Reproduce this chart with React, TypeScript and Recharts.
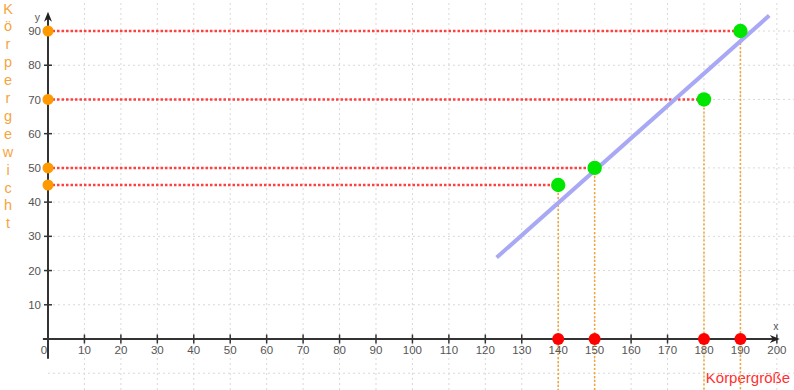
import React from 'react';
import { ComposedChart, XAxis, YAxis, Scatter, ReferenceLine, ReferenceDot } from 'recharts';

// ---- data ----
const xTicks = [10, 20, 30, 40, 50, 60, 70, 80, 90, 100, 110, 120, 130, 140, 150, 160, 170, 180, 190, 200];
const yTicks = [10, 20, 30, 40, 50, 60, 70, 80, 90];
const gridX = [10, 20, 30, 40, 50, 60, 70, 80, 90, 100, 110, 120, 130, 140, 150, 160, 170, 180, 190, 200];
const gridY = [-10, 10, 20, 30, 40, 50, 60, 70, 80, 90];
const heights = [140, 150, 180, 190];
const weights = [45, 50, 70, 90];
const regression = [
  { x: 123.1, y: 23.8 },
  { x: 197.9, y: 94.5 },
];
const xLabel = 'Körpergröße';
const yLabel = 'Körpergewicht';

const X_MIN = -13.17;
const X_MAX = 204.7;
const Y_MIN = -14.9;
const Y_MAX = 99.06;
const X_AXIS_START = -1.4;
const X_AXIS_END = 200.8;
const Y_AXIS_START = -5.8;
const Y_AXIS_END = 95.6;

const points = heights.map((h, i) => ({ x: h, y: weights[i] }));
const xDots = heights.map((h) => ({ x: h, y: 0 }));
const yDots = weights.map((w) => ({ x: 0, y: w }));

const tickFont = { fontFamily: 'Liberation Sans, Arial, sans-serif', fontSize: 11.5, fill: '#555' };
const GRID = '#d8d8d8';

const dot = (r: number, fill: string) => (p: any) => <circle cx={p.cx} cy={p.cy} r={r} fill={fill} />;

const ArrowUp = (p: any) => (
  <polygon points={`${p.cx},${p.cy} ${p.cx - 4},${p.cy + 10} ${p.cx},${p.cy + 7} ${p.cx + 4},${p.cy + 10}`} fill="#222" />
);
const ArrowRight = (p: any) => (
  <polygon points={`${p.cx},${p.cy} ${p.cx - 10},${p.cy - 4} ${p.cx - 7},${p.cy} ${p.cx - 10},${p.cy + 4}`} fill="#222" />
);

export default function App() {
  return (
    <div style={{ position: 'absolute', left: 0, top: 0, width: 794, height: 390, background: '#fff' }}>
      <ComposedChart width={794} height={390} margin={{ top: 0, right: 0, bottom: 0, left: 0 }}>
        <XAxis type="number" dataKey="x" domain={[X_MIN, X_MAX]} allowDataOverflow hide />
        <YAxis type="number" dataKey="y" domain={[Y_MIN, Y_MAX]} allowDataOverflow hide />

        {gridX.map((g) => (
          <ReferenceLine key={'gx' + g} segment={[{ x: g, y: Y_MIN }, { x: g, y: Y_MAX }]} stroke={GRID} strokeDasharray="2 3" ifOverflow="visible" />
        ))}
        {gridY.map((g) => (
          <ReferenceLine key={'gy' + g} segment={[{ x: 0, y: g }, { x: X_MAX, y: g }]} stroke={GRID} strokeDasharray="2 3" ifOverflow="visible" />
        ))}

        {points.map((p) => (
          <ReferenceLine key={'v' + p.x} segment={[{ x: p.x, y: p.y }, { x: p.x, y: Y_MIN }]} stroke="#f5a83a" strokeWidth={1.6} strokeDasharray="2 2" ifOverflow="visible" />
        ))}
        {points.map((p) => (
          <ReferenceLine key={'h' + p.y} segment={[{ x: 0, y: p.y }, { x: p.x, y: p.y }]} stroke="#ff4040" strokeWidth={2.5} strokeDasharray="2.5 2" ifOverflow="visible" />
        ))}

        <ReferenceLine segment={regression} stroke="#a8a8f4" strokeWidth={4} ifOverflow="visible" />

        {/* axes */}
        <ReferenceLine segment={[{ x: X_AXIS_START, y: 0 }, { x: X_AXIS_END - 1.5, y: 0 }]} stroke="#333" strokeWidth={2} ifOverflow="visible" />
        <ReferenceLine segment={[{ x: 0, y: Y_AXIS_START }, { x: 0, y: Y_AXIS_END - 1.5 }]} stroke="#333" strokeWidth={2} ifOverflow="visible" />
        <ReferenceDot x={0} y={Y_AXIS_END} r={0} shape={ArrowUp} ifOverflow="visible" label={{ value: 'y', position: 'left', offset: 8, dy: 5, ...tickFont, fontSize: 10.5 }} />
        <ReferenceDot x={X_AXIS_END} y={0} r={0} shape={ArrowRight} ifOverflow="visible" label={{ value: 'x', position: 'top', offset: 9, dx: -4, ...tickFont, fontSize: 10.5 }} />

        {xTicks.map((t) => (
          <ReferenceLine key={'xt' + t} segment={[{ x: t, y: -1.3 }, { x: t, y: 1.3 }]} stroke="#333" strokeWidth={1.5} ifOverflow="visible" />
        ))}
        {yTicks.map((t) => (
          <ReferenceLine key={'yt' + t} segment={[{ x: -1.1, y: t }, { x: 1.1, y: t }]} stroke="#333" strokeWidth={1.5} ifOverflow="visible" />
        ))}
        {xTicks.map((t) => (
          <ReferenceDot key={'xl' + t} x={t} y={0} r={0} fill="none" stroke="none" ifOverflow="visible" label={{ value: String(t), position: 'bottom', offset: 7, ...tickFont }} />
        ))}
        {yTicks.map((t) => (
          <ReferenceDot key={'yl' + t} x={0} y={t} r={0} fill="none" stroke="none" ifOverflow="visible" label={{ value: String(t), position: 'left', offset: 7, ...tickFont }} />
        ))}
        <ReferenceDot x={0} y={0} r={0} fill="none" stroke="none" ifOverflow="visible" label={{ value: '0', position: 'bottom', offset: 7, dx: -4, ...tickFont }} />

        <Scatter data={yDots} shape={dot(5.5, '#ff9900')} isAnimationActive={false} />
        <Scatter data={xDots} shape={dot(6, '#ff0000')} isAnimationActive={false} />
        <Scatter data={points} shape={dot(7.2, '#00e600')} isAnimationActive={false} />

        <text x={790} y={383} textAnchor="end" fill="#ff3030" fontFamily="Liberation Sans, Arial, sans-serif" fontSize={15}>
          {xLabel}
        </text>
        {yLabel.split('').map((ch, i) => (
          <text key={'yl' + i} x={8} y={13.5 + i * 17.9} textAnchor="middle" fill="#f7a440" fontFamily="Liberation Sans, Arial, sans-serif" fontSize={14.5}>
            {ch}
          </text>
        ))}
      </ComposedChart>
    </div>
  );
}
